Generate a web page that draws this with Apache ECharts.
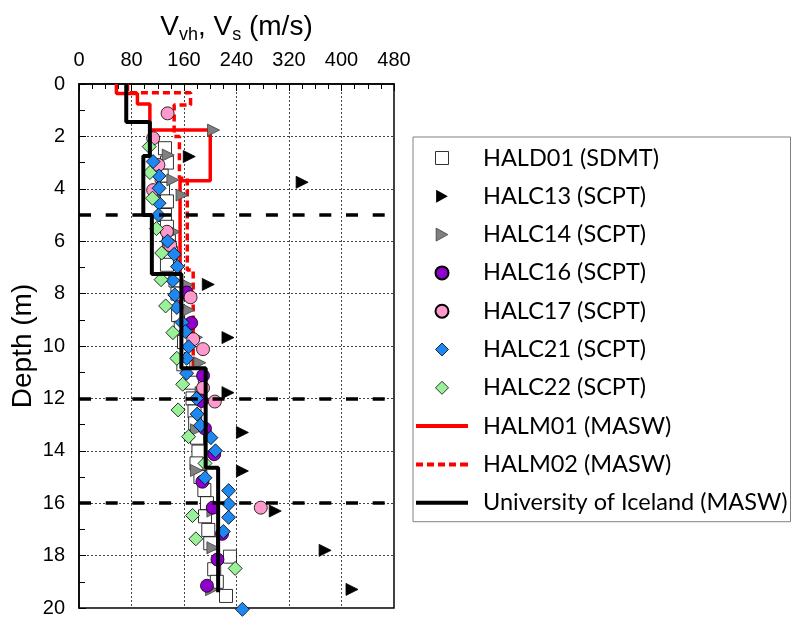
<!DOCTYPE html>
<html>
<head>
<meta charset="utf-8">
<script src="https://cdn.jsdelivr.net/npm/echarts@6/dist/echarts.min.js"></script>
<style>
html, body { margin: 0; background: #fff; }
#chart { width: 793px; height: 622px; }
</style>
</head>
<body>
<div id="chart"></div>
<script>
// MASW layers: [top depth, bottom depth, Vs]
var halm01 = [[0, 0.36, 57], [0.36, 0.76, 89], [0.76, 1.76, 108], [1.76, 3.69, 200], [3.69, 9.0, 154]];
var halm02 = [[0, 0.33, 74], [0.33, 0.8, 170], [0.8, 2.0, 145], [2.0, 3.6, 153], [3.6, 7.1, 165], [7.1, 10.8, 174]];
var uIceland = [[0, 1.45, 72], [1.45, 2.75, 108], [2.75, 5.0, 98], [5.0, 7.25, 111], [7.25, 10.85, 156], [10.85, 14.65, 193], [14.65, 19.4, 212]];

// point measurements: [Vvh, depth]
var hald01 = [[131, 2.45], [134, 3.0], [126, 3.5], [128, 4.0], [134, 4.48], [131, 5.0], [134, 5.45], [137, 6.0], [140, 6.45], [134, 6.9],
    [147, 7.5], [150, 8.0], [151, 8.82], [155, 9.3], [160, 9.85], [159, 10.7], [172, 11.4], [173, 12.0], [176, 12.5], [177, 12.95],
    [180, 13.5], [182, 14.03], [179, 14.48], [185, 15.0], [191, 15.5], [195, 16.0], [192, 16.5], [197, 17.02], [200, 17.53],
    [230, 18.04], [206, 18.52], [210, 19.0], [224, 19.54]];
var halc13 = [[168, 2.77], [340, 3.75], [197, 7.65], [227, 9.68], [227, 11.78], [249, 13.3], [249, 14.77], [299, 16.3], [375, 17.8], [416, 19.29]];
var halc14 = [[205, 1.76], [136, 2.71], [143, 3.66], [157, 4.24], [145, 5.64], [165, 7.67], [167, 8.63], [179, 9.67], [184, 10.64],
    [186, 11.78], [179, 13.2], [179, 14.75], [204, 16.3], [204, 17.7], [202, 19.3]];
var halc16 = [[164, 7.96], [171, 9.12], [189, 11.13], [187, 12.1], [192, 13.15], [206, 14.13], [188, 15.18], [204, 16.17], [218, 17.17],
    [211, 18.15], [195, 19.15]];
var halc17 = [[135, 1.12], [113, 2.07], [121, 3.09], [113, 4.05], [134, 5.64], [139, 6.15], [170, 8.14], [174, 9.74], [189, 10.12],
    [189, 11.6], [207, 12.12], [277, 16.17]];
var halc21 = [[113, 2.96], [122, 3.51], [122, 3.98], [122, 4.55], [121, 5.0], [135, 6.0], [145, 6.5], [150, 6.97], [143, 7.5],
    [146, 8.05], [149, 8.53], [157, 9.1], [162, 9.45], [167, 10.03], [164, 10.47], [164, 11.04], [179, 12.0], [180, 12.6],
    [185, 13.03], [201, 13.5], [208, 14.0], [192, 15.03], [228, 15.52], [228, 16.03], [228, 16.54], [220, 17.08], [249, 20.05]];
var halc22 = [[107, 2.39], [108, 3.38], [112, 4.36], [118, 5.52], [126, 6.45], [125, 7.47], [132, 8.47], [143, 9.49], [149, 10.47],
    [158, 11.46], [151, 12.44], [167, 13.46], [192, 14.48], [173, 16.47], [178, 17.36], [238, 18.49]];

var boundaryDepths = [5, 12, 16];

var chartInstance = echarts.init(document.getElementById("chart"));

// layers -> step polyline
function steps(layers) {
    var out = [];
    layers.forEach(function (l) {
        out.push([l[2], l[0]]);
        out.push([l[2], l[1]]);
    });
    return out;
}

function scatter(name, data, symbol, size, fill, border, rotate) {
    return {
        name: name,
        type: "scatter",
        data: data,
        symbol: symbol,
        symbolSize: size,
        symbolRotate: rotate || 0,
        clip: false,
        itemStyle: { color: fill, borderColor: border, borderWidth: 0.8, opacity: 1 },
        z: 3
    };
}

// legend icons (paths keep their aspect in the 52x13 box)
var solidIcon = "path://M0,0L52,0L52,4L0,4Z";
var dashIcon = "path://M0,0h7v4h-7zM11,0h7v4h-7zM22,0h7v4h-7zM33,0h7v4h-7zM44,0h8v4h-8z";
var squareIcon = "path://M0,0h10v10h-10z";
var triIcon = "path://M0,0L9,5L0,10Z";
var diamondIcon = "path://M5,0L10,5L5,10L0,5Z";

function legendItem(name, icon, fill, border) {
    return { name: name, icon: icon, itemStyle: { color: fill, borderColor: border, borderWidth: border ? 0.8 : 0 } };
}

var font = "Liberation Sans";

var option = {
    animation: false,
    grid: { left: 79, right: 399, top: 84, bottom: 14, show: true, borderColor: "#000", borderWidth: 1.5 },
    legend: {
        orient: "vertical",
        left: 413,
        top: 137,
        padding: [9, 3, 7, 3],
        borderColor: "#808080",
        borderWidth: 1,
        itemWidth: 52,
        itemHeight: 13,
        itemGap: 14.3,
        textStyle: { fontFamily: "Lato", fontSize: 23.5, color: "#000", padding: [0, 0, 0, 10] },
        data: [
            legendItem("HALD01 (SDMT)", squareIcon, "#fff", "#000"),
            legendItem("HALC13 (SCPT)", triIcon, "#000", null),
            legendItem("HALC14 (SCPT)", triIcon, "#808080", "#404040"),
            { name: "HALC16 (SCPT)" },
            { name: "HALC17 (SCPT)" },
            legendItem("HALC21 (SCPT)", diamondIcon, "#1e88f0", "#000"),
            legendItem("HALC22 (SCPT)", diamondIcon, "#99f299", "#000"),
            legendItem("HALM01 (MASW)", solidIcon, "#ff0000", null),
            legendItem("HALM02 (MASW)", dashIcon, "#ff0000", null),
            legendItem("University of Iceland (MASW)", solidIcon, "#000", null)
        ]
    },
    xAxis: {
        type: "value",
        position: "top",
        min: 0,
        max: 480,
        interval: 80,
        name: "{a|V}{b|vh}{a|, V}{b|s}{a| (m/s)}",
        nameLocation: "middle",
        nameGap: 40,
        nameTextStyle: {
            rich: {
                a: { fontFamily: font, fontSize: 28, lineHeight: 34, color: "#000" },
                b: { fontFamily: font, fontSize: 18, lineHeight: 18, verticalAlign: "bottom", color: "#000" }
            }
        },
        axisLine: { lineStyle: { color: "#000", width: 1.5 } },
        axisTick: { inside: true, length: 7, lineStyle: { color: "#000" } },
        minorTick: { show: true, splitNumber: 4, length: 5, lineStyle: { color: "#000" } },
        splitLine: { show: true, lineStyle: { color: "#444", type: [2, 2], width: 1 } },
        axisLabel: { fontFamily: font, fontSize: 20, color: "#000", margin: 14 }
    },
    yAxis: {
        type: "value",
        inverse: true,
        min: 0,
        max: 20,
        interval: 2,
        name: "Depth (m)",
        nameLocation: "middle",
        nameGap: 42,
        nameRotate: 90,
        nameTextStyle: { fontFamily: font, fontSize: 28, color: "#000" },
        axisLine: { lineStyle: { color: "#000", width: 1.5 } },
        axisTick: { inside: true, length: 7, lineStyle: { color: "#000" } },
        minorTick: { show: true, splitNumber: 2, length: 6, lineStyle: { color: "#000" } },
        splitLine: { show: true, lineStyle: { color: "#444", type: [2, 2], width: 1 } },
        axisLabel: { fontFamily: font, fontSize: 20, color: "#000", margin: 14 }
    },
    series: [
        {
            name: "HALM01 (MASW)",
            type: "line",
            data: steps(halm01),
            symbol: "none",
            lineStyle: { color: "#ff0000", width: 3.5 },
            itemStyle: { color: "#ff0000" },
            z: 1,
            markLine: {
                silent: true,
                symbol: ["none", "none"],
                label: { show: false },
                lineStyle: { color: "#000", width: 3.5, type: [12, 14.7] },
                data: boundaryDepths.map(function (d) { return { yAxis: d }; })
            }
        },
        {
            name: "HALM02 (MASW)",
            type: "line",
            data: steps(halm02),
            symbol: "none",
            lineStyle: { color: "#ff0000", width: 3.5, type: [7, 4] },
            itemStyle: { color: "#ff0000" },
            z: 1
        },
        scatter("HALD01 (SDMT)", hald01, "rect", 13, "#fff", "#000"),
        scatter("HALC13 (SCPT)", halc13, "triangle", 12, "#000", "#000", -90),
        scatter("HALC14 (SCPT)", halc14, "triangle", 12, "#808080", "#404040", -90),
        scatter("HALC16 (SCPT)", halc16, "circle", 13, "#8f00cc", "#000"),
        scatter("HALC17 (SCPT)", halc17, "circle", 13, "#ff99cc", "#000"),
        scatter("HALC21 (SCPT)", halc21, "diamond", 14, "#1e88f0", "#000"),
        scatter("HALC22 (SCPT)", halc22, "diamond", 14, "#99f299", "#000"),
        {
            name: "University of Iceland (MASW)",
            type: "line",
            data: steps(uIceland),
            symbol: "none",
            lineStyle: { color: "#000", width: 4 },
            itemStyle: { color: "#000" },
            z: 5
        }
    ]
};

chartInstance.setOption(option);
window.addEventListener("resize", chartInstance.resize);
</script>
</body>
</html>
